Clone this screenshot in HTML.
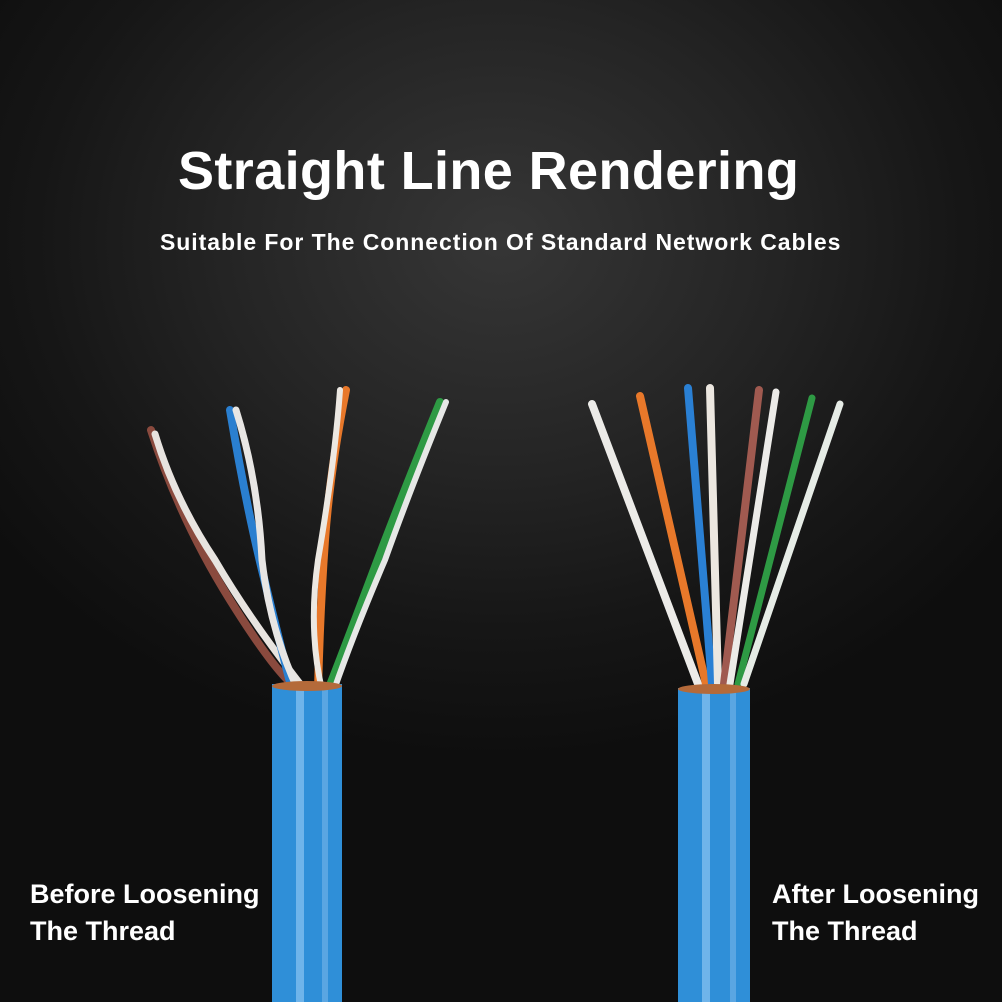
<!DOCTYPE html>
<html><head><meta charset="utf-8"><style>
html,body{margin:0;padding:0;background:#000}
.wrap{width:1002px;height:1002px;position:relative;overflow:hidden;
background:radial-gradient(ellipse 620px 520px at 500px 240px,#363636 0%,#242424 45%,#161616 75%,#0e0e0e 100%);}
.t{position:absolute;color:#fff;font-family:"Liberation Sans",sans-serif;font-weight:bold;white-space:nowrap}
svg{position:absolute;left:0;top:0}
</style></head><body><div class="wrap">
<svg width="1002" height="1002" viewBox="0 0 1002 1002">
<g fill="none" stroke-linecap="round">
<path d="M151,430 Q180,520 230,600 T300,690" stroke="#8a4a3e" stroke-width="8"/>
<path d="M155,434 Q175,500 215,560 Q250,620 305,690" stroke="#e8e4e0" stroke-width="7"/>
<path d="M230,410 Q245,500 262,570 T292,690" stroke="#2a7fd0" stroke-width="8"/>
<path d="M236,410 Q258,480 262,560 Q270,630 298,690" stroke="#e8e6e4" stroke-width="7"/>
<path d="M346,390 Q330,470 325,540 T318,690" stroke="#e8782a" stroke-width="8"/>
<path d="M340,390 Q335,460 318,560 Q308,630 322,690" stroke="#ece8e2" stroke-width="6"/>
<path d="M440,402 Q400,500 370,580 T328,690" stroke="#2e9a44" stroke-width="8"/>
<path d="M446,402 Q410,490 385,560 Q355,630 334,690" stroke="#e6e8e6" stroke-width="6"/>
<path d="M592,404 L698,684" stroke="#ecebe8" stroke-width="8"/>
<path d="M640,396 L706,684" stroke="#e8782a" stroke-width="8"/>
<path d="M688,388 L712,684" stroke="#2a80d4" stroke-width="8"/>
<path d="M710,388 L718,684" stroke="#ece7e0" stroke-width="8"/>
<path d="M759,390 L724,684" stroke="#a05a50" stroke-width="8"/>
<path d="M776,392 L730,684" stroke="#ecebe8" stroke-width="7"/>
<path d="M812,398 L738,684" stroke="#2e9a44" stroke-width="7"/>
<path d="M840,404 L744,684" stroke="#e6ece6" stroke-width="7"/>
</g>
<rect x="272" y="684" width="70" height="320" fill="#2f8fd8"/>
<rect x="296" y="684" width="8" height="320" fill="#6fb4ea"/>
<rect x="322" y="684" width="6" height="320" fill="#5aa6e2"/>
<ellipse cx="307" cy="686" rx="35" ry="5" fill="#b46a3a"/>
<rect x="678" y="688" width="72" height="316" fill="#2f8fd8"/>
<rect x="702" y="688" width="8" height="316" fill="#6fb4ea"/>
<rect x="730" y="688" width="6" height="316" fill="#5aa6e2"/>
<ellipse cx="714" cy="689" rx="36" ry="5" fill="#b46a3a"/>
</svg>
<div class="t" style="left:178px;top:140px;font-size:54px;letter-spacing:0.4px">Straight Line Rendering</div>
<div class="t" style="left:160px;top:229px;font-size:23px;letter-spacing:0.95px">Suitable For The Connection Of Standard Network Cables</div>
<div class="t" style="left:30px;top:876px;font-size:27px;line-height:37px">Before Loosening<br>The Thread</div>
<div class="t" style="left:772px;top:876px;font-size:27px;line-height:37px">After Loosening<br>The Thread</div>
</div></body></html>
